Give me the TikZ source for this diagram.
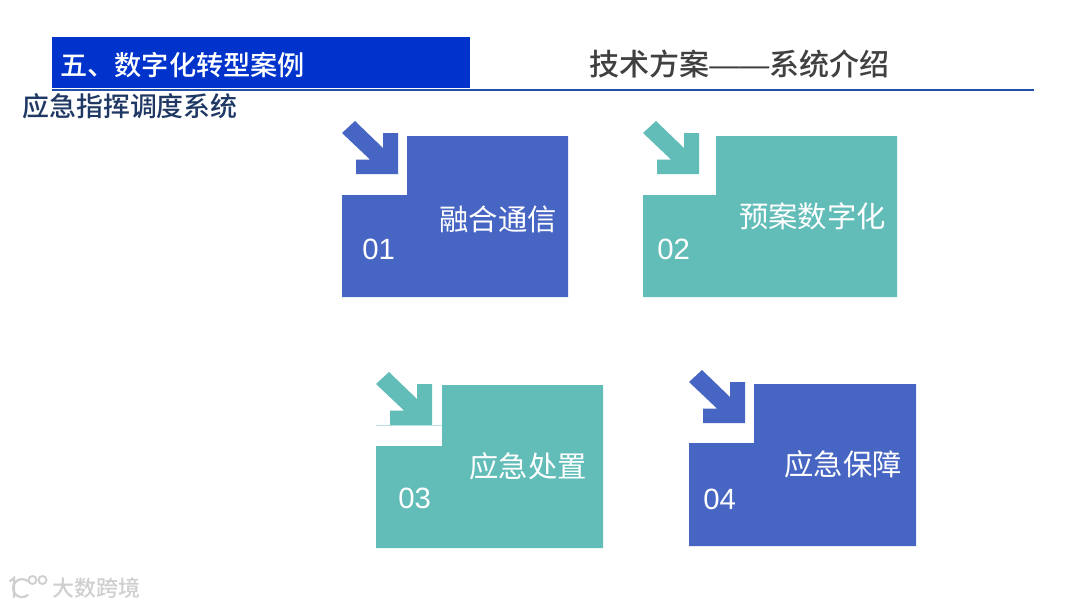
\documentclass[tikz,border=0pt]{standalone}
\usepackage{fontspec}
\setmainfont{Liberation Sans}
\newfontfamily\cjk{Noto Sans CJK SC}
\newfontfamily\cjkmed{Noto Sans CJK SC Medium}
\definecolor{cblue}{HTML}{4765C3}
\definecolor{cteal}{HTML}{62BDB9}
\definecolor{hblue}{HTML}{0033CC}
\definecolor{hline}{HTML}{1F4FA8}
\definecolor{titlegray}{HTML}{404040}
\definecolor{subnavy}{HTML}{1F3864}
\definecolor{wm}{HTML}{CFCFCF}
\newcommand{\cardshape}[7]{% x0 xn x1 y0 yn y1 colour
  \fill[#7] (#1,#5) -- (#2,#5) -- (#2,#4) -- (#3,#4) -- (#3,#6) -- (#1,#6) -- cycle;
}
\newcommand{\arrowshape}[3]{% x y colour
  \fill[#3,shift={(#1,#2)}] (0,0) -- (13,-12) -- (41,15) -- (41,0) -- (56,0) -- (56,41) -- (14,41) -- (14,26.5) -- (28,26.5) -- cycle;
}
\begin{document}
\begin{tikzpicture}[x=0.75pt,y=-0.75pt,
  cardtitle/.style={text=white,inner sep=0,font=\cjk\fontsize{22}{26}\selectfont},
  cardnum/.style={text=white,inner sep=0,font=\fontsize{22}{26}\selectfont},
  wmtext/.style={text=wm,inner sep=0,font=\cjkmed\fontsize{16.5}{20}\selectfont}]
\useasboundingbox (0,0) rectangle (1080,608);
\fill[white] (0,0) rectangle (1080,608);
% header
\fill[hblue] (52,37) rectangle (470,88);
\draw[hline,line width=1.5pt] (52,89.5) -- (1034,89.5);
\node[text=white,inner sep=0,anchor=west,font=\cjkmed\fontsize{20.4}{24}\selectfont] (head) at (60,65) {五、数字化转型案例};
\node[text=titlegray,inner sep=0,anchor=west,font=\cjkmed\fontsize{22.5}{27}\selectfont] (title) at (589,64) {技术方案{\rmfamily ——}系统介绍};
\node[text=subnavy,inner sep=0,anchor=west,font=\cjkmed\fontsize{20.2}{24}\selectfont] (sub) at (22,106) {应急指挥调度系统};
% cards
\cardshape{342}{568}{407}{136}{297}{195}{cblue}
\arrowshape{342}{133}{cblue}
\node[cardtitle,anchor=east] (t1) at (557,219) {融合通信};
\node[cardnum,anchor=west] (n1) at (362,249) {01};
\cardshape{643}{897}{716}{136}{297}{195}{cteal}
\arrowshape{643}{133}{cteal}
\node[cardtitle,anchor=east] (t2) at (886,216) {预案数字化};
\node[cardnum,anchor=west] (n2) at (657,249) {02};
\cardshape{376}{603}{442}{385}{548}{446}{cteal}
\arrowshape{376}{384}{cteal}
\draw[cteal!45,line width=0.5pt] (376,425.5) -- (442,425.5);
\node[cardtitle,anchor=east] (t3) at (587,466) {应急处置};
\node[cardnum,anchor=west] (n3) at (398,498) {03};
\cardshape{689}{916}{754}{384}{546}{443}{cblue}
\arrowshape{689}{382}{cblue}
\node[cardtitle,anchor=east] (t4) at (902,464) {应急保障};
\node[cardnum,anchor=west] (n4) at (703,499) {04};
% watermark
\draw[wm,line width=1.6pt,line cap=round] (10,581) -- (14,578) -- (14,597);
\draw[wm,line width=1.6pt,line cap=round] (27.8,595) arc (50:310:9);
\draw[wm,line width=1.4pt] (32.5,580) circle (4);
\draw[wm,line width=1.4pt] (42.5,580) circle (4);
\node[wmtext,anchor=west] (wm) at (52,588) {大数跨境};
\end{tikzpicture}
\end{document}
